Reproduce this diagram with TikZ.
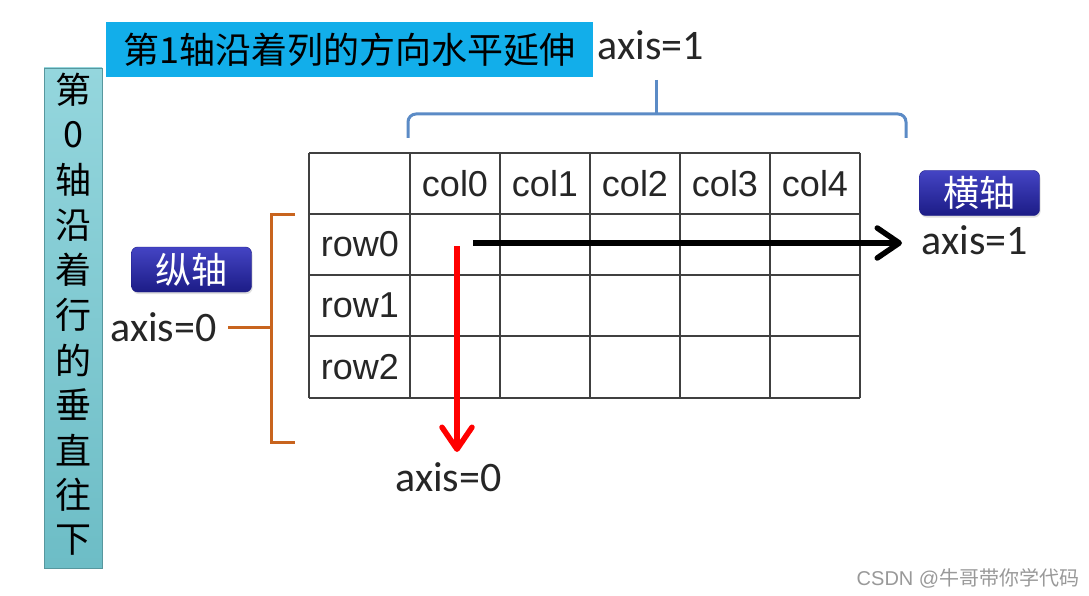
\documentclass[tikz,border=0pt]{standalone}
\usepackage{fontspec}
\setmainfont{Liberation Sans}
\newfontfamily\cjkfont{Noto Sans CJK SC}
\newfontfamily\axisfont{Carlito}
\usetikzlibrary{arrows.meta,positioning,shadows}
\definecolor{tealtop}{HTML}{94D6DD}
\definecolor{tealbot}{HTML}{6DBDC6}
\definecolor{titlebar}{HTML}{12AEEA}
\definecolor{tagtop}{HTML}{4444C4}
\definecolor{tagbot}{HTML}{1C1C86}
\definecolor{bracketblue}{HTML}{5B8BC6}
\definecolor{bracketorange}{HTML}{C8641E}
\tikzset{
  cell/.style={font=\fontsize{36}{36}\selectfont, text=black!85, inner sep=0pt},
  axislabel/.style={font=\axisfont\fontsize{42}{42}\selectfont, text=black!85, inner sep=0pt},
  cjkchar/.style={font=\cjkfont\fontsize{36}{36}\selectfont, inner sep=0pt},
  tagbox/.style={rounded corners=6pt, top color=tagtop, bottom color=tagbot,
    draw=tagbot, text=white, font=\cjkfont\fontsize{36}{36}\selectfont,
    minimum width=120pt, minimum height=45pt, inner sep=0pt,
    drop shadow={opacity=0.25, shadow xshift=1pt, shadow yshift=-2pt}},
  grid line/.style={line width=2pt, black!75},
  axisarrow/.style={line width=5.5pt,
    -{Straight Barb[length=22pt,width=30pt,line cap=round,line join=round]}}
}
\begin{document}
\begin{tikzpicture}[x=1pt,y=-1pt]
\useasboundingbox[fill=white] (0,0) rectangle (1089,596);

% vertical note on the left
\node[draw=tealbot!80!black, top color=tealtop, bottom color=tealbot,
  minimum width=58pt, minimum height=500pt, inner sep=0pt] (axis0note) at (73,318) {};
\foreach \ch [count=\i from 0] in {第,0,轴,沿,着,行,的,垂,直,往,下}
  \node[cjkchar] (note\i) at (73,90+45*\i) {\ch};

% title bar
\node[fill=titlebar, minimum width=487pt, minimum height=55pt, inner sep=0pt,
  font=\cjkfont\fontsize{36}{36}\selectfont] (axis1note) at (349.5,49.5)
  {第1轴沿着列的方向水平延伸};
\node[axislabel] (axis1top) at (651,45) {axis=1};

% table
\foreach \x in {309,410,500,590,680,770,860}
  \draw[grid line] (\x,153) -- (\x,398);
\foreach \y in {153,214,275,336,398}
  \draw[grid line] (309,\y) -- (860,\y);
\foreach \c [count=\i from 0] in {455,545,635,725,815}
  \node[cell] (col\i) at (\c,184) {col\i};
\foreach \r [count=\i from 0] in {244.5,305.5,367}
  \node[cell] (row\i) at (360,\r) {row\i};

% blue bracket over the columns
\coordinate (stemtop) at (656,80);
\coordinate (stembot) at (656,114);
\draw[bracketblue, line width=3pt, rounded corners=8pt]
  (408,138) -- (408,114) -- (906,114) -- (906,138);
\draw[bracketblue, line width=3pt] (stemtop) -- (stembot);

% orange bracket beside the rows
\node[axislabel] (axis0left) at (163.5,327) {axis=0};
\node[tagbox] (zongzhou) at (191.5,269.5) {纵轴};
\coordinate (ticktip) at (228,327);
\coordinate (tickfoot) at (271,327);
\draw[bracketorange, line width=3pt] (295,214) -- (271,214) -- (271,442) -- (295,442);
\draw[bracketorange, line width=3pt] (ticktip) -- (tickfoot);

% axis arrows
\coordinate (hstart) at (473,243);
\coordinate (hend) at (902,243);
\draw[axisarrow, black] (hstart) -- (hend);
\node[tagbox] (hengzhou) at (979.5,193) {横轴};
\node[axislabel] (axis1right) at (975,240) {axis=1};

\coordinate (vstart) at (457,246);
\coordinate (vend) at (457,452);
\draw[axisarrow, red] (vstart) -- (vend);
\node[axislabel] (axis0bottom) at (448.5,477) {axis=0};

% watermark
\node[text=black!40, font=\fontsize{20}{20}\selectfont, inner sep=0pt] (mark)
  at (968,578) {CSDN @{\cjkfont 牛哥带你学代码}};
\end{tikzpicture}
\end{document}
